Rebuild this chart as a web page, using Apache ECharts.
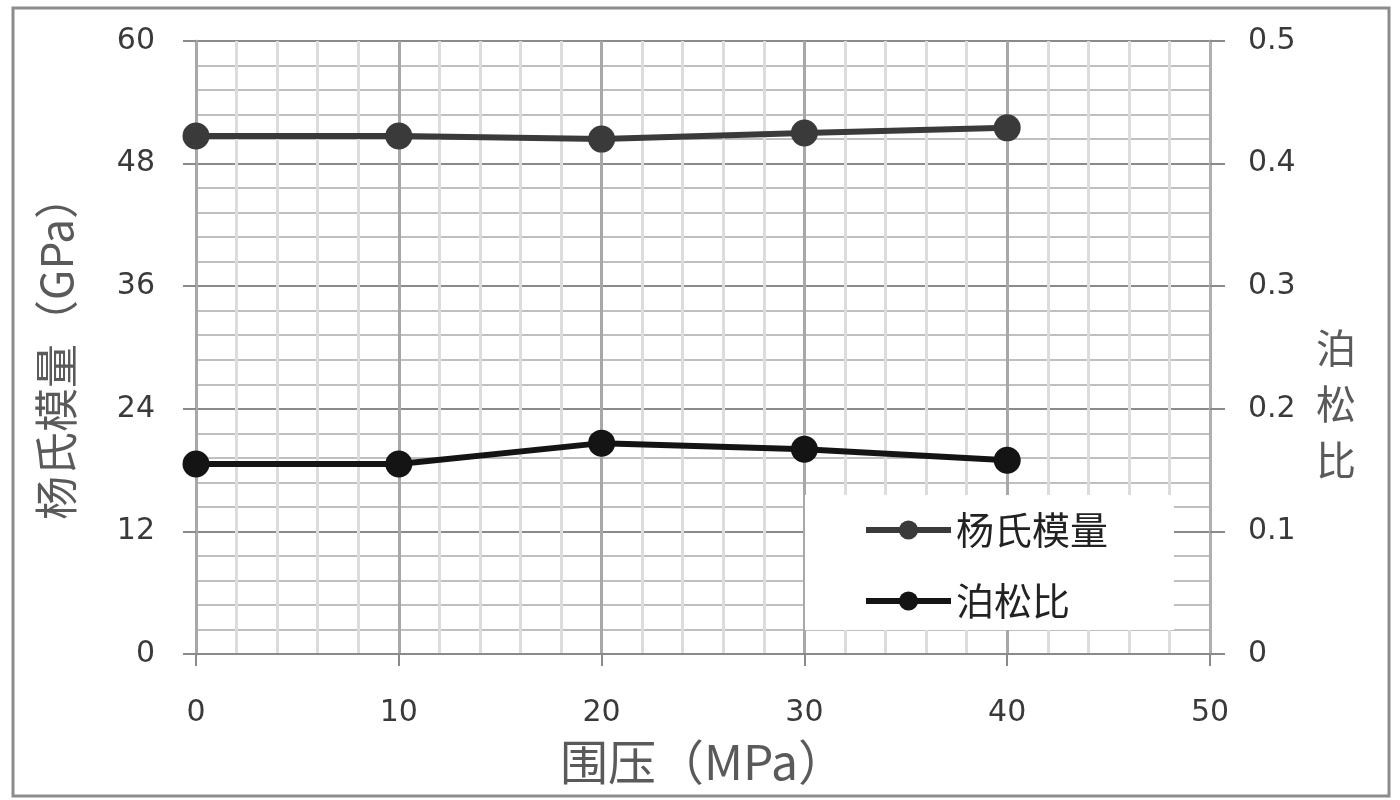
<!DOCTYPE html>
<html>
<head>
<meta charset="utf-8">
<script src="https://cdn.jsdelivr.net/npm/echarts@6/dist/echarts.min.js"></script>
<style>
html,body{margin:0;padding:0;background:#fff;}
#chart{width:1400px;height:800px;}
</style>
</head>
<body>
<div id="chart"></div>
<script>
// Data
const pressures = [0, 10, 20, 30, 40];
const youngModulus = [50.7, 50.7, 50.4, 51.0, 51.5];
const poissonRatio = [0.155, 0.155, 0.172, 0.167, 0.158];
const seriesNames = ['杨氏模量', '泊松比'];
const xAxisName = '围压（MPa）';
const leftAxisName = '杨氏模量（GPa）';
const rightAxisName = '泊松比';

const fontLatin = 'DejaVu Sans, Verdana, sans-serif';
const fontCJK = '"Noto Sans CJK SC", "DejaVu Sans", sans-serif';

const chart = echarts.init(document.getElementById('chart'));
const option = {
  backgroundColor: '#fff',
  animation: false,
  graphic: [{
    type: 'rect',
    shape: { x: 13, y: 8, width: 1376, height: 788 },
    style: { fill: 'none', stroke: '#8c8c8c', lineWidth: 3 },
    z: 10
  }],
  grid: { left: 196, right: 190, top: 41, bottom: 146, containLabel: false },
  legend: {
    orient: 'vertical',
    left: 805,
    top: 495,
    backgroundColor: '#fff',
    padding: [16, 66, 10, 58],
    itemWidth: 85,
    itemHeight: 24,
    itemGap: 33,
    lineStyle: { width: 6 },
    textStyle: { fontFamily: fontCJK, fontSize: 38, color: '#222' },
    data: seriesNames
  },
  xAxis: {
    type: 'value',
    min: 0, max: 50, interval: 10,
    name: xAxisName,
    nameLocation: 'middle',
    nameGap: 84,
    nameTextStyle: { fontFamily: fontCJK, fontSize: 48, color: '#5a5a5a' },
    axisLine: { show: true, onZero: false, lineStyle: { color: '#8a8a8a', width: 2 } },
    axisTick: { show: true, length: 12, lineStyle: { color: '#8a8a8a', width: 2 } },
    axisLabel: { margin: 44, fontFamily: fontLatin, fontSize: 30, color: '#3a3a3a' },
    splitLine: { show: true, lineStyle: { color: '#a8a8a8', width: 3 } },
    minorTick: { show: false, splitNumber: 5 },
    minorSplitLine: { show: true, lineStyle: { color: '#dcdcdc', width: 3 } }
  },
  yAxis: [{
    type: 'value',
    min: 0, max: 60, interval: 12,
    position: 'left',
    name: leftAxisName,
    nameLocation: 'middle',
    nameGap: 118,
    nameTextStyle: { fontFamily: fontCJK, fontSize: 44, color: '#5a5a5a' },
    axisLine: { show: true, lineStyle: { color: '#a8a8a8', width: 3 } },
    axisTick: { show: true, length: 13, lineStyle: { color: '#8a8a8a', width: 2 } },
    axisLabel: { margin: 41, fontFamily: fontLatin, fontSize: 30, color: '#3a3a3a' },
    splitLine: { show: true, lineStyle: { color: '#8a8a8a', width: 2 } },
    minorTick: { show: false, splitNumber: 5 },
    minorSplitLine: { show: true, lineStyle: { color: '#ababab', width: 1.5 } }
  }, {
    type: 'value',
    min: 0, max: 0.5, interval: 0.1,
    position: 'right',
    name: '\n\n' + rightAxisName.split('').join('\n'),
    nameLocation: 'middle',
    nameRotate: 0,
    nameGap: 106,
    nameTextStyle: { fontFamily: fontCJK, fontSize: 40, lineHeight: 56, color: '#5a5a5a',
      align: 'left', verticalAlign: 'middle' },
    axisLine: { show: true, lineStyle: { color: '#b0b0b0', width: 3 } },
    axisTick: { show: true, length: 15, lineStyle: { color: '#8a8a8a', width: 2 } },
    axisLabel: { margin: 38, fontFamily: fontLatin, fontSize: 30, color: '#3a3a3a',
      formatter: v => (v === 0 ? '0' : String(Math.round(v * 10) / 10)) },
    splitLine: { show: false }
  }],
  series: [{
    name: seriesNames[0],
    type: 'line',
    yAxisIndex: 0,
    data: pressures.map((p, i) => [p, youngModulus[i]]),
    symbol: 'circle',
    symbolSize: 27,
    lineStyle: { color: '#3a3a3a', width: 6 },
    itemStyle: { color: '#3a3a3a' }
  }, {
    name: seriesNames[1],
    type: 'line',
    yAxisIndex: 1,
    data: pressures.map((p, i) => [p, poissonRatio[i]]),
    symbol: 'circle',
    symbolSize: 27,
    lineStyle: { color: '#141414', width: 6 },
    itemStyle: { color: '#141414' }
  }]
};
chart.setOption(option);
</script>
</body>
</html>
